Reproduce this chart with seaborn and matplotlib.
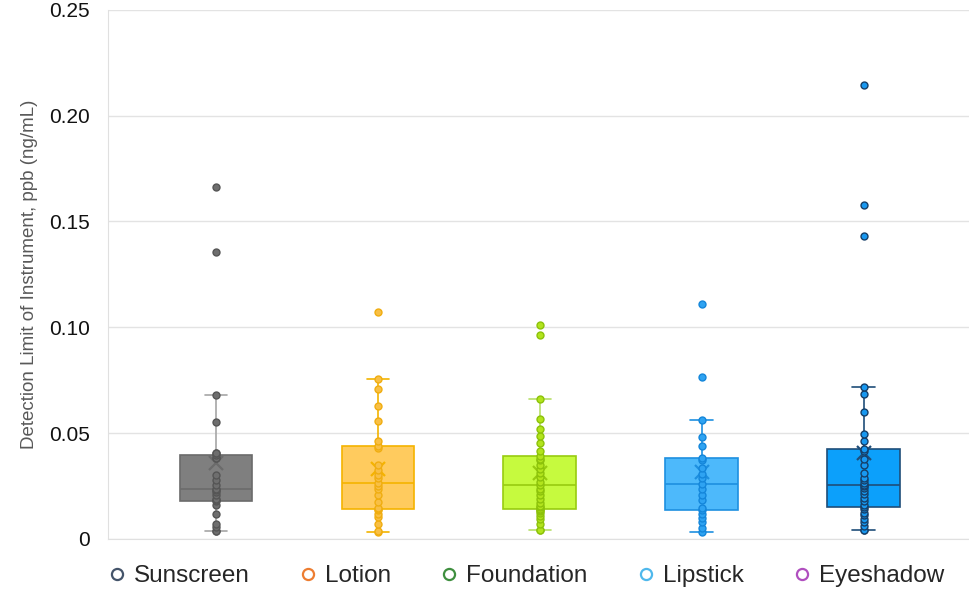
"""
Detection limit box plots per product type
"""
import pandas as pd
import matplotlib.pyplot as plt
import seaborn as sns
from matplotlib.lines import Line2D

categories = ["Sunscreen", "Lotion", "Foundation", "Lipstick", "Eyeshadow"]

sunscreen = [0.0039, 0.0039, 0.0058, 0.0071, 0.0117, 0.0161, 0.0180, 0.0184, 0.0190,
             0.0210, 0.0224, 0.0230, 0.0236, 0.0255, 0.0279, 0.0300, 0.0381, 0.0381,
             0.0397, 0.0405, 0.0405, 0.0551, 0.0680, 0.1358, 0.1662]
lotion = [0.0032, 0.0039, 0.0072, 0.0105, 0.0120, 0.0135, 0.0143, 0.0148, 0.0176,
          0.0207, 0.0235, 0.0250, 0.0266, 0.0287, 0.0302, 0.0326, 0.0348, 0.0430,
          0.0440, 0.0463, 0.0556, 0.0630, 0.0710, 0.0755, 0.1074]
foundation = [0.0043, 0.0043, 0.0070, 0.0096, 0.0110, 0.0121, 0.0130, 0.0138, 0.0143,
              0.0150, 0.0156, 0.0170, 0.0188, 0.0210, 0.0225, 0.0238, 0.0255, 0.0270,
              0.0294, 0.0310, 0.0331, 0.0350, 0.0373, 0.0380, 0.0392, 0.0414, 0.0455,
              0.0487, 0.0518, 0.0566, 0.0660, 0.0963, 0.1011]
lipstick = [0.0033, 0.0050, 0.0082, 0.0100, 0.0118, 0.0139, 0.0145, 0.0183, 0.0210,
            0.0236, 0.0260, 0.0290, 0.0307, 0.0334, 0.0373, 0.0381, 0.0441, 0.0481,
            0.0561, 0.0765, 0.1112]
eyeshadow = [0.0043, 0.0043, 0.0060, 0.0082, 0.0095, 0.0113, 0.0125, 0.0140, 0.0151,
             0.0160, 0.0180, 0.0195, 0.0214, 0.0225, 0.0240, 0.0248, 0.0254, 0.0265,
             0.0279, 0.0290, 0.0310, 0.0350, 0.0378, 0.0416, 0.0425, 0.0463, 0.0496,
             0.0602, 0.0684, 0.0720, 0.1429, 0.1578, 0.2146]

y_ticks = [0, 0.05, 0.10, 0.15, 0.20, 0.25]
y_tick_labels = ["0", "0.05", "0.10", "0.15", "0.20", "0.25"]

# box fill, box edge, whisker, point fill, point edge
styles = {
    "Sunscreen":  ("#7f7f7f", "#6b6b6b", "#a6a6a6", "#6e6e6e", "#555555"),
    "Lotion":     ("#ffcb5e", "#f5b300", "#f2b400", "#f8bf45", "#f0ad10"),
    "Foundation": ("#c6fa3e", "#98cc10", "#b8df6a", "#b2e41c", "#8cc20a"),
    "Lipstick":   ("#4db9fb", "#1e90e0", "#1e90e0", "#2ea3f2", "#1486da"),
    "Eyeshadow":  ("#0ca0fb", "#1f4e79", "#1f4e79", "#1898f0", "#163f68"),
}
legend_colors = ["#44546a", "#ed7d31", "#3f8f3f", "#4fb8ec", "#b04fbf"]

values = {"Sunscreen": sunscreen, "Lotion": lotion, "Foundation": foundation,
          "Lipstick": lipstick, "Eyeshadow": eyeshadow}
df = pd.DataFrame([(c, v) for c in categories for v in values[c]], columns=["cat", "val"])

sns.set_style("white")
plt.rcParams["font.family"] = ["Liberation Sans", "DejaVu Sans"]

fig = plt.figure(figsize=(9.69, 5.94), dpi=100)
ax = fig.add_axes([0.1115, 0.0926, 0.8885, 0.891])

for c in categories:
    fill, edge, whisk, pfill, pedge = styles[c]
    sub = df[df["cat"] == c]
    sns.boxplot(data=sub, x="cat", y="val", order=categories, color=fill,
                saturation=1, width=0.45, showfliers=False, showmeans=True,
                boxprops=dict(facecolor=fill, edgecolor=edge, linewidth=1.2),
                whiskerprops=dict(color=whisk, linewidth=1.2),
                capprops=dict(color=whisk, linewidth=1.2),
                medianprops=dict(color=edge, linewidth=1.2),
                meanprops=dict(marker="x", markeredgecolor=edge, markersize=10,
                               markeredgewidth=1.6),
                capwidths=0.14, ax=ax)
    sns.stripplot(data=sub, x="cat", y="val", order=categories, color=pfill,
                  edgecolor=pedge, linewidth=1, jitter=False, size=5,
                  zorder=4, ax=ax)

ax.set_xlim(-0.667, 4.65)
ax.set_ylim(0, 0.25)
ax.set_yticks(y_ticks)
ax.set_yticklabels(y_tick_labels)
ax.set_xticks([])
ax.set_xlabel("")
ax.set_ylabel("Detection Limit of Instrument, ppb (ng/mL)", fontsize=13.5,
              color="#595959", labelpad=8)
ax.tick_params(axis="y", labelsize=15, length=0, pad=13, labelcolor="#111111")
ax.yaxis.grid(True, color="#e3e3e3", linewidth=1)
ax.set_axisbelow(True)
for side in ["top", "right"]:
    ax.spines[side].set_visible(False)
for side in ["left", "bottom"]:
    ax.spines[side].set_color("#e0e0e0")

handles = [Line2D([], [], marker="o", linestyle="", markerfacecolor="none",
                  markeredgecolor=col, markeredgewidth=1.6, markersize=8)
           for col in legend_colors]
fig.legend(handles, categories, loc="center", bbox_to_anchor=(0.54, 0.03), ncol=5,
           frameon=False, handletextpad=0.1, handlelength=1.2, columnspacing=1.8,
           prop={"family": ["Liberation Sans", "DejaVu Sans"], "size": 17.5})

fig.savefig("out.png", dpi=100)
